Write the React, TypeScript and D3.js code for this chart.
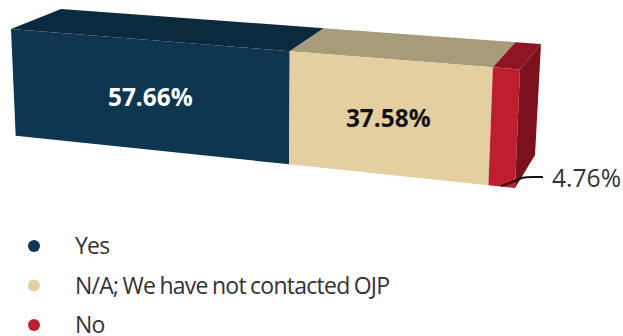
import React from "react";
import * as d3 from "d3";

const categories = ["Yes", "N/A; We have not contacted OJP", "No"];
const shares = [57.66, 37.58, 4.76];
const shareLabels = ["57.66%", "37.58%", "4.76%"];
const frontColors = ["#0F3650", "#E3CFA0", "#BE1E2D"];
const topColors = ["#0B2A3E", "#A89B79", "#8E1522"];
const sideColor = "#7A111B";
const labelColors = ["#FFFFFF", "#111111"];

type Pt = [number, number];

// Corners of the box on screen; the stack runs from the far-left end to the near-right end.
const frontTop: [Pt, Pt] = [[11, 29], [520, 69.5]];
const frontBottom: [Pt, Pt] = [[15.7, 135.7], [515, 188]];
const backTop: [Pt, Pt] = [[61, 9], [541, 44]];
const backBottomRight: Pt = [535, 155];
const foreshortening = 1.125;

const share = d3.scaleLinear().domain([0, d3.sum(shares)]).range([0, 1]);
const cumulative = d3.cumsum(shares);

// Projective mapping along an edge, so equal shares shrink with distance.
function along(edge: [Pt, Pt], value: number): Pt {
  const u = share(value);
  const s = u / (u + foreshortening * (1 - u));
  return [
    d3.interpolateNumber(edge[0][0], edge[1][0])(s),
    d3.interpolateNumber(edge[0][1], edge[1][1])(s),
  ];
}

const polygon = (pts: Pt[]) => {
  const p = d3.path();
  pts.forEach((pt, i) => (i === 0 ? p.moveTo(pt[0], pt[1]) : p.lineTo(pt[0], pt[1])));
  p.closePath();
  return p.toString();
};

const leader = d3.line<Pt>().curve(d3.curveBasis);
const leaderPoints: Pt[] = [[501, 186], [513, 182], [523, 177], [532, 177], [543, 177]];

const legendY = d3.scalePoint<string>().domain(categories).range([246, 325]);
const font = "'Open Sans', sans-serif";
const labelNudge = [3.5, 0.5];
const labelBaseline = [106, 126.5];

export default function App() {
  return (
    <svg
      width={623}
      height={336}
      viewBox="0 0 623 336"
      style={{ position: "absolute", left: 0, top: 0, background: "#fff" }}
    >
      {/* right-hand end of the box */}
      <path
        d={polygon([frontTop[1], backTop[1], backBottomRight, frontBottom[1]])}
        fill={sideColor}
      />
      {shares.map((_, i) => {
        const from = i === 0 ? 0 : cumulative[i - 1];
        const to = cumulative[i];
        return (
          <g key={categories[i]}>
            <path
              d={polygon([
                along(frontTop, from),
                along(backTop, from),
                along(backTop, to),
                along(frontTop, to),
              ])}
              fill={topColors[i]}
            />
            <path
              d={polygon([
                along(frontTop, from),
                along(frontTop, to),
                along(frontBottom, to),
                along(frontBottom, from),
              ])}
              fill={frontColors[i]}
            />
          </g>
        );
      })}
      {shareLabels.slice(0, 2).map((label, i) => {
        const from = i === 0 ? 0 : cumulative[i - 1];
        const mid = (from + cumulative[i]) / 2;
        const top = along(frontTop, mid);
        const bottom = along(frontBottom, mid);
        return (
          <text
            key={label}
            x={(top[0] + bottom[0]) / 2 + labelNudge[i]}
            y={labelBaseline[i]}
            textAnchor="middle"
            fontFamily={font}
            fontWeight={700}
            fontSize={24.4}
            fill={labelColors[i]}
          >
            {label}
          </text>
        );
      })}
      <path d={leader(leaderPoints) ?? ""} fill="none" stroke="#111" strokeWidth={2} />
      <text x={552} y={187} fontFamily={font} fontSize={24.6} fill="#333">
        {shareLabels[2]}
      </text>
      {categories.map((c, i) => (
        <g key={c}>
          <circle cx={34} cy={legendY(c)} r={6} fill={frontColors[i]} />
          <text
            x={75}
            y={(legendY(c) ?? 0) + 8}
            fontFamily={font}
            fontSize={23}
            letterSpacing={-0.75}
            wordSpacing={-1}
            fill="#333"
          >
            {c}
          </text>
        </g>
      ))}
    </svg>
  );
}
